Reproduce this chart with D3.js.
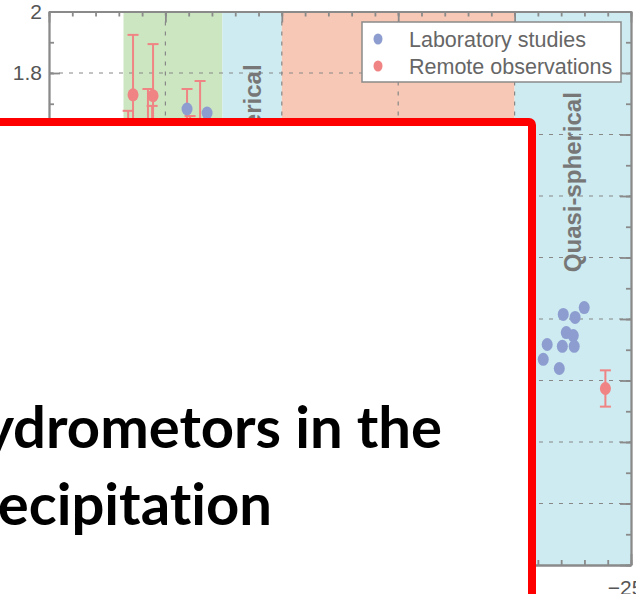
<!DOCTYPE html>
<html lang="en">
<head>
  <meta charset="UTF-8">
  <title>Aspect ratio vs temperature</title>
  <script src="https://d3js.org/d3.v7.min.js"></script>
  <style>
    body {
      margin: 0;
      background: #fff;
    }

    svg {
      display: block;
    }

    .axis path,
    .axis line {
      stroke: #8a8a8a;
      stroke-width: 1.8px;
    }

    .axis text {
      font-family: "Liberation Sans", Arial, sans-serif;
      font-size: 21px;
      fill: #555;
    }

    .grid line {
      stroke: #888;
      stroke-width: 1.2px;
      stroke-dasharray: 4 6;
    }

    .region-label {
      font-family: "Liberation Sans", Arial, sans-serif;
      font-weight: bold;
      font-size: 24px;
      fill: #777;
    }

    .legend text {
      font-family: "Liberation Sans", Arial, sans-serif;
      font-size: 21.5px;
      fill: #666;
    }

    .overlay text {
      font-family: Lato, "Open Sans", sans-serif;
      font-weight: bold;
      font-size: 58px;
      font-variant-ligatures: none;
      font-feature-settings: "liga" 0;
      fill: #000;
    }
  </style>
</head>

<body>
  <div id="chart"></div>
  <script>
    // habit regions along the temperature axis (deg C)
    const regionFrom = [-3.2, -7.45, -10, -20];
    const regionTo = [-7.45, -10, -20, -25];
    const regionLabel = ["", "Quasi-spherical", "", "Quasi-spherical"];

    // laboratory studies
    const labTemp = [-5.93, -6.79, -22.09, -22.60, -22.99, -22.22, -22.52, -22.05, -22.56, -21.40, -21.23, -21.92];
    const labRatio = [1.683, 1.670, 1.015, 1.005, 1.037, 0.956, 0.946, 0.911, 0.911, 0.917, 0.869, 0.839];

    // remote observations (with error)
    const remTemp = [-3.61, -4.47, -3.40, -4.25, -4.43, -5.93, -6.49, -6.06, -23.9];
    const remRatio = [1.729, 1.726, 1.55, 1.60, 1.55, 1.60, 1.60, 1.50, 0.774];
    const remErr = [0.195, 0.168, 0.127, 0.148, 0.143, 0.148, 0.174, 0.16, 0.059];

    // axis ticks
    const xMajor = [0, -5, -10, -15, -20, -25];
    const yMajor = [0.2, 0.4, 0.6, 0.8, 1, 1.2, 1.4, 1.6, 1.8, 2];

    const legendItems = ["Laboratory studies", "Remote observations"];
    const titleLines = ["Hydrometors in the", "Precipitation"];

    const width = 636,
          height = 594;

    const regionColor = ["#cce6c1", "#cdebf1", "#f8c8b6", "#cdebf1"];
    const labColor = "#8e9dd0",
          remColor = "#f08383";

    const svg = d3.select("#chart")
      .append("svg")
      .attr("width", width)
      .attr("height", height);

    const x = d3.scaleLinear().domain([0, -25]).range([49, 631]);
    const y = d3.scaleLinear().domain([0.2, 2]).range([565, 11.5]);

    const xMinor = d3.range(0, -26, -1);
    const yMinor = d3.range(2, 21).map(d => d / 10);

    // shaded regions
    svg.append("g")
      .selectAll("rect")
      .data(regionFrom)
      .enter().append("rect")
      .attr("x", d => x(d))
      .attr("y", y(2))
      .attr("width", (d, i) => x(regionTo[i]) - x(d))
      .attr("height", y(0.2) - y(2))
      .attr("fill", (d, i) => regionColor[i]);

    // dashed grid
    const grid = svg.append("g").attr("class", "grid");
    grid.selectAll(".gx")
      .data(xMajor.slice(1, -1))
      .enter().append("line")
      .attr("x1", d => x(d)).attr("x2", d => x(d))
      .attr("y1", y(2)).attr("y2", y(0.2));
    grid.selectAll(".gy")
      .data(yMajor.slice(1, -1))
      .enter().append("line")
      .attr("x1", x(0)).attr("x2", x(-25))
      .attr("y1", d => y(d)).attr("y2", d => y(d));

    // axes, ticks pointing inwards
    function drawAxis(axisFn, scale, values, size, fmt, pad, transform) {
      return svg.append("g")
        .attr("class", "axis")
        .attr("transform", transform)
        .call(axisFn(scale).tickValues(values).tickSize(size).tickSizeOuter(0)
          .tickPadding(pad).tickFormat(fmt));
    }

    const none = () => "";
    drawAxis(d3.axisBottom, x, xMinor, -5, none, 0, `translate(0,${y(0.2)})`);
    drawAxis(d3.axisBottom, x, xMajor, -11, d => d3.format("d")(d).replace("-", "\u2212"), 15, `translate(0,${y(0.2)})`)
      .selectAll("text").attr("dx", -6);
    drawAxis(d3.axisTop, x, xMinor, -5, none, 0, `translate(0,${y(2)})`);
    drawAxis(d3.axisTop, x, xMajor, -11, none, 0, `translate(0,${y(2)})`);
    drawAxis(d3.axisLeft, y, yMinor, -5, none, 0, `translate(${x(0)},0)`);
    drawAxis(d3.axisLeft, y, yMajor, -11, d => d3.format("~g")(d), 7, `translate(${x(0)},0)`);
    drawAxis(d3.axisRight, y, yMinor, -5, none, 0, `translate(${x(-25)},0)`);
    drawAxis(d3.axisRight, y, yMajor, -11, none, 0, `translate(${x(-25)},0)`);

    // region labels
    const labelY = [null, 1.535, null, 1.445];
    svg.append("g")
      .selectAll("text")
      .data(regionLabel.map((t, i) => ({ t, i })).filter(d => d.t))
      .enter().append("text")
      .attr("class", "region-label")
      .attr("text-anchor", "middle")
      .attr("dy", "0.35em")
      .attr("transform", d => `translate(${x((regionFrom[d.i] + regionTo[d.i]) / 2)},${y(labelY[d.i])}) rotate(-90)`)
      .text(d => d.t);

    // remote observations: error bars + markers
    const rem = svg.append("g");
    remTemp.forEach((t, i) => {
      const cx = x(t);
      const lo = y(remRatio[i] - remErr[i]),
            hi = y(remRatio[i] + remErr[i]);
      rem.append("line")
        .attr("x1", cx).attr("x2", cx).attr("y1", lo).attr("y2", hi)
        .attr("stroke", remColor).attr("stroke-width", 2);
      [lo, hi].forEach(v => {
        rem.append("line")
          .attr("x1", cx - 5.5).attr("x2", cx + 5.5).attr("y1", v).attr("y2", v)
          .attr("stroke", remColor).attr("stroke-width", 2);
      });
    });
    rem.selectAll("ellipse")
      .data(remTemp)
      .enter().append("ellipse")
      .attr("cx", d => x(d))
      .attr("cy", (d, i) => y(remRatio[i]))
      .attr("rx", 5.5).attr("ry", 6.5)
      .attr("fill", remColor);

    // laboratory markers
    svg.append("g")
      .selectAll("ellipse")
      .data(labTemp)
      .enter().append("ellipse")
      .attr("cx", d => x(d))
      .attr("cy", (d, i) => y(labRatio[i]))
      .attr("rx", 5.5).attr("ry", 6.5)
      .attr("fill", labColor);

    // legend
    const legend = svg.append("g").attr("class", "legend");
    legend.append("rect")
      .attr("x", 362).attr("y", 22)
      .attr("width", 259).attr("height", 60)
      .attr("fill", "#fff")
      .attr("stroke", "#8a8a8a")
      .attr("stroke-width", 1.5);
    legendItems.forEach((label, i) => {
      legend.append("ellipse")
        .attr("cx", 378).attr("cy", 39 + i * 27)
        .attr("rx", 4.5).attr("ry", 5.5)
        .attr("fill", i === 0 ? labColor : remColor);
      legend.append("text")
        .attr("x", 409).attr("y", 39 + i * 27)
        .attr("dy", "0.35em")
        .text(label);
    });

    // white panel with red border on top of the chart
    const overlay = svg.append("g").attr("class", "overlay");
    overlay.append("rect")
      .attr("x", -40).attr("y", 122)
      .attr("width", 572).attr("height", 520)
      .attr("rx", 3)
      .attr("fill", "#fff")
      .attr("stroke", "#ff0000")
      .attr("stroke-width", 8);
    overlay.append("text")
      .attr("x", 442).attr("y", 448)
      .attr("text-anchor", "end")
      .text(titleLines[0]);
    overlay.append("text")
      .attr("x", 272).attr("y", 525)
      .attr("text-anchor", "end")
      .text(titleLines[1]);
  </script>
</body>
</html>
